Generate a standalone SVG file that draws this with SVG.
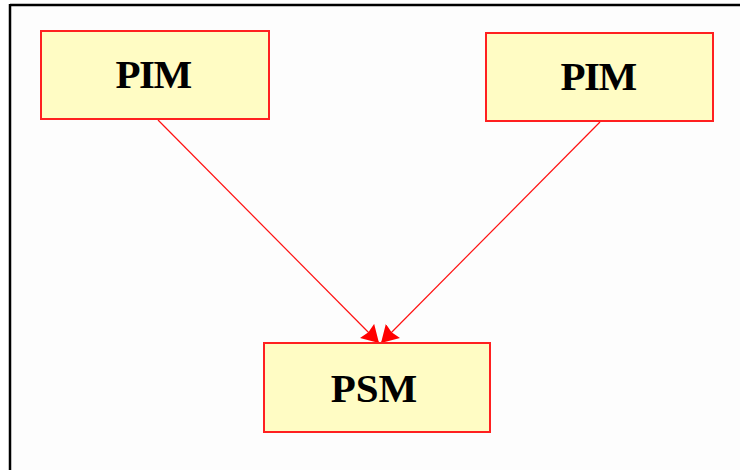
<svg xmlns="http://www.w3.org/2000/svg" width="740" height="470" viewBox="0 0 740 470">
  <style>
    .box { fill: #fffcc4; stroke: #ff2020; stroke-width: 2; }
    .lbl { font-family: "Liberation Serif", "Times New Roman", serif; font-weight: bold; font-size: 41px; fill: #000; text-anchor: middle; }
    .edge { stroke: #ff1010; stroke-width: 1.2; fill: none; marker-end: url(#arrow); }
  </style>
  <defs>
    <marker id="arrow" viewBox="0 0 17 20" refX="17" refY="10" markerWidth="17" markerHeight="20" markerUnits="userSpaceOnUse" orient="auto">
      <path d="M0,0 L17,10 L0,20 L2,10 Z" fill="#ff0000"/>
    </marker>
  </defs>

  <!-- page and frame -->
  <rect x="0" y="0" width="740" height="470" fill="#ffffff"/>
  <rect x="10" y="5" width="730" height="465" fill="#fdfdfd"/>
  <line x1="10" y1="5" x2="740" y2="5" stroke="#000" stroke-width="2.5"/>
  <line x1="10" y1="4" x2="10" y2="470" stroke="#000" stroke-width="2.5"/>

  <!-- connectors -->
  <g id="connectors">
    <line class="edge" x1="158" y1="120" x2="379" y2="343"/>
    <line class="edge" x1="600" y1="122" x2="381" y2="343"/>
  </g>

  <g id="pim-left">
    <rect class="box" x="41" y="31" width="228" height="88"/>
    <text class="lbl" x="153" y="88" letter-spacing="-1.5">PIM</text>
  </g>

  <g id="pim-right">
    <rect class="box" x="486" y="33" width="227" height="88"/>
    <text class="lbl" x="598" y="90" letter-spacing="-1.5">PIM</text>
  </g>

  <g id="psm">
    <rect class="box" x="264" y="343" width="226" height="89"/>
    <text class="lbl" x="374" y="402">PSM</text>
  </g>
</svg>
